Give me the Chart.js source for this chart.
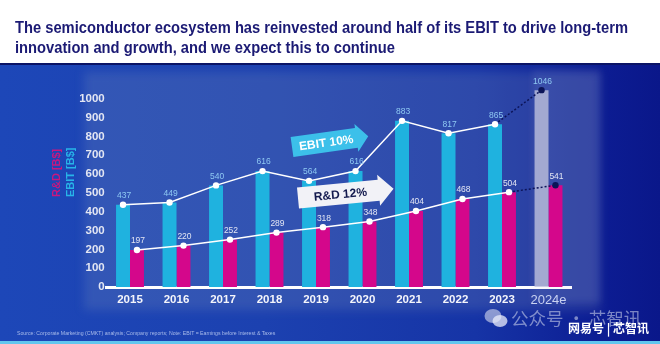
<!DOCTYPE html>
<html>
<head>
<meta charset="utf-8">
<script src="https://cdn.jsdelivr.net/npm/chart.js@4/dist/chart.umd.min.js"></script>
<style>
  html, body { margin: 0; padding: 0; width: 660px; height: 344px; overflow: hidden; background: #fff; font-family: "Liberation Sans", Arial, sans-serif; }
  #title { position: absolute; left: 15px; top: 18px; color: #1b1a74; font-weight: bold; font-size: 16px; line-height: 20px; white-space: nowrap; transform-origin: 0 0; }
  #panel { position: absolute; left: 0; top: 63px; width: 660px; height: 278px; border-top: 2px solid #0b1466;
           background: linear-gradient(90deg, #1d47b8 0%, #1c41b0 40%, #1634a6 72%, #0c1c92 92%, #0a178a 100%); }
  #plotbg { position: absolute; left: 84px; top: 72px; width: 516px; height: 238px; background: rgba(130, 150, 185, 0.22); filter: blur(5px); }
  #bottomline { position: absolute; left: 0; top: 341px; width: 660px; height: 3px; background: #61c6ee; }
  #source { position: absolute; left: 17px; top: 330px; font-size: 5.2px; color: #a9bbea; white-space: nowrap; }
  #wm1 { position: absolute; left: 484px; top: 307px; font-family: "Noto Sans CJK SC", sans-serif; font-size: 17.5px; line-height: 22px; color: rgba(215, 220, 240, 0.55); white-space: nowrap; }
  #wm1 svg { vertical-align: -3px; margin-right: 3px; }
  #wm2 { position: absolute; left: 568px; top: 320px; font-family: "Noto Sans CJK SC", sans-serif; font-weight: bold; font-size: 12px; line-height: 15px; color: #ffffff; white-space: nowrap; }
  canvas { position: absolute; left: 0; top: 0; }
</style>
</head>
<body>
<div id="title"><span id="l1">The semiconductor ecosystem has reinvested around half of its EBIT to drive long-term</span><br>innovation and growth, and we expect this to continue</div>
<div id="panel"></div>
<div id="plotbg"></div>
<div id="bottomline"></div>
<canvas id="bars" width="660" height="344"></canvas>
<canvas id="trends" width="660" height="344"></canvas>
<div id="source">Source: Corporate Marketing (CMKT) analysis; Company reports; Note: EBIT = Earnings before Interest &amp; Taxes</div>
<div id="wm1"><svg width="24" height="20" viewBox="0 0 24 20"><ellipse cx="9" cy="8" rx="8.5" ry="7" fill="rgba(215,220,240,0.6)"/><ellipse cx="16" cy="13" rx="7.5" ry="6" fill="rgba(235,238,250,0.75)"/></svg>公众号 · 芯智讯</div>
<div id="wm2">网易号 | 芯智讯</div>
<script>
// Fit the first title line to the header width
(function () {
  const title = document.getElementById('title');
  const w = document.getElementById('l1').getBoundingClientRect().width;
  title.style.transform = 'scaleX(' + (613 / w) + ')';
})();

// Values in billions of dollars
const years = ['2015', '2016', '2017', '2018', '2019', '2020', '2021', '2022', '2023', '2024e'];
const ebit  = [437, 449, 540, 616, 564, 616, 883, 817, 865, 1046];
const rnd   = [197, 220, 252, 289, 318, 348, 404, 468, 504, 541];
const yTicks = [0, 100, 200, 300, 400, 500, 600, 700, 800, 900, 1000];
const estimateIndex = years.length - 1;

const CYAN = '#1fb2df';
const MAGENTA = '#d4078b';
const ESTIMATE_GRAY = 'rgba(190, 193, 220, 0.8)';
const NAVY_DOT = '#0c1458';
const FONT = '"Liberation Sans", Arial, sans-serif';

// Shared plot geometry so the bar and trend layers line up
const AREA = { left: 106.75, right: 88.25, top: 80, bottom: 57 };
const Y_MAX = 1100;
const barOffset = 0.15; // half of one bar, in category units

const lineData = (vals, sign) => vals.map((v, i) => ({ x: i + sign * barOffset, y: v }));

// Soft highlight column behind the estimate year
const highlightPlugin = {
  id: 'highlight',
  beforeDatasetsDraw(chart) {
    const { ctx, scales } = chart;
    const xc = scales.x.getPixelForValue(estimateIndex);
    ctx.save();
    ctx.filter = 'blur(3px)';
    ctx.fillStyle = 'rgba(200, 210, 240, 0.10)';
    ctx.fillRect(xc - 16, 70, 68, 232);
    ctx.restore();
  }
};

// Two-colour vertical axis title
const axisTitlePlugin = {
  id: 'axisTitle',
  afterDraw(chart) {
    const { ctx } = chart;
    [['EBIT [B$]', 71, '#27b4e8', 'none'], ['R&D [B$]', 57, '#c8177f', 'blur(0.6px)']].forEach(([txt, x, color, filter]) => {
      ctx.save();
      ctx.font = 'bold 11px ' + FONT;
      ctx.textAlign = 'left';
      ctx.textBaseline = 'middle';
      ctx.translate(x, 197);
      ctx.rotate(-Math.PI / 2);
      ctx.filter = filter;
      ctx.fillStyle = color;
      ctx.fillText(txt, 0, 0);
      ctx.restore();
    });
  }
};

// Value labels above the trend points
const valueLabelPlugin = {
  id: 'valueLabels',
  afterDatasetsDraw(chart) {
    const { ctx } = chart;
    ctx.save();
    ctx.font = '8.5px ' + FONT;
    ctx.textAlign = 'center';
    ctx.textBaseline = 'middle';
    [[0, '#8ec8f2'], [1, '#e2e5f3']].forEach(([di, color]) => {
      const meta = chart.getDatasetMeta(di);
      const vals = chart.data.datasets[di].data;
      meta.data.forEach((pt, i) => {
        ctx.fillStyle = color;
        ctx.fillText(String(vals[i].y), pt.x + 1, pt.y - 9);
      });
    });
    ctx.restore();
  }
};

// Growth arrows
function drawArrow(ctx, x, y, angle, len, bodyH, headLen, headH, fill, text, textColor) {
  ctx.save();
  ctx.translate(x, y);
  ctx.rotate(angle * Math.PI / 180);
  ctx.beginPath();
  ctx.moveTo(0, -bodyH / 2);
  ctx.lineTo(len - headLen, -bodyH / 2);
  ctx.lineTo(len - headLen, -headH / 2);
  ctx.lineTo(len, 0);
  ctx.lineTo(len - headLen, headH / 2);
  ctx.lineTo(len - headLen, bodyH / 2);
  ctx.lineTo(0, bodyH / 2);
  ctx.closePath();
  ctx.fillStyle = fill;
  ctx.fill();
  ctx.fillStyle = textColor;
  ctx.font = 'bold 12px ' + FONT;
  ctx.textAlign = 'center';
  ctx.textBaseline = 'middle';
  ctx.fillText(text, (len - headLen) / 2 + 2, 1);
  ctx.restore();
}

const arrowPlugin = {
  id: 'arrows',
  afterDatasetsDraw(chart) {
    const { ctx } = chart;
    let g = ctx.createLinearGradient(293, 0, 368, 0);
    g.addColorStop(0, '#3cc0ea');
    g.addColorStop(1, '#1eaedd');
    drawArrow(ctx, 292, 147, -8, 77, 20, 12, 28, g, 'EBIT 10%', '#ffffff');
    g = ctx.createLinearGradient(298, 0, 393, 0);
    g.addColorStop(0, '#f2f2f7');
    g.addColorStop(1, '#c9cbdb');
    drawArrow(ctx, 298, 198, -5.5, 96, 21, 15, 31, g, 'R&D 12%', '#141a4e');
  }
};

// Bar layer with the axes
new Chart(document.getElementById('bars'), {
  type: 'bar',
  data: {
    labels: years,
    datasets: [
      {
        label: 'EBIT', data: ebit,
        backgroundColor: ebit.map((_, i) => i === estimateIndex ? ESTIMATE_GRAY : CYAN),
        categoryPercentage: 0.6, barPercentage: 1.0
      },
      {
        label: 'R&D', data: rnd,
        backgroundColor: MAGENTA,
        categoryPercentage: 0.6, barPercentage: 1.0
      }
    ]
  },
  options: {
    responsive: false,
    animation: false,
    layout: { padding: { top: AREA.top, right: AREA.right, bottom: 0, left: 0 } },
    plugins: { legend: { display: false }, tooltip: { enabled: false } },
    scales: {
      x: {
        grid: { display: false, drawTicks: false },
        border: { display: true, color: '#ffffff', width: 3 },
        ticks: {
          padding: 6,
          color: c => c.index === estimateIndex ? '#c9d2f2' : '#f4f5fb',
          font: c => c.index === estimateIndex
            ? { family: FONT, size: 13, weight: 'normal' }
            : { family: FONT, size: 11.5, weight: 'bold' }
        },
        afterFit(scale) { scale.height = AREA.bottom; }
      },
      y: {
        min: 0, max: Y_MAX,
        grid: { display: false, drawTicks: false },
        border: { display: false },
        afterBuildTicks(scale) { scale.ticks = yTicks.map(v => ({ value: v })); },
        ticks: {
          padding: 2,
          color: '#e3e6f3',
          font: { family: FONT, size: 11.5, weight: 'bold' },
          callback: v => String(v)
        },
        afterFit(scale) { scale.width = AREA.left; }
      }
    }
  },
  plugins: [highlightPlugin, axisTitlePlugin]
});

// Trend layer: lines through the bar tops, growth arrows and value labels
const lastSeg = c => c.p1DataIndex === estimateIndex;
const trendSet = (label, vals, sign) => ({
  label, data: lineData(vals, sign),
  borderColor: '#ffffff', borderWidth: 1.5, tension: 0,
  pointRadius: 3.2, pointBorderWidth: 0,
  pointBackgroundColor: vals.map((_, i) => i === estimateIndex ? NAVY_DOT : '#ffffff'),
  segment: {
    borderColor: c => lastSeg(c) ? NAVY_DOT : '#ffffff',
    borderDash: c => lastSeg(c) ? [2, 2] : undefined
  }
});

new Chart(document.getElementById('trends'), {
  type: 'line',
  data: { datasets: [trendSet('EBIT', ebit, -1), trendSet('R&D', rnd, 1)] },
  options: {
    responsive: false,
    animation: false,
    layout: { padding: AREA },
    plugins: { legend: { display: false }, tooltip: { enabled: false } },
    scales: {
      x: { type: 'linear', display: false, min: -0.5, max: years.length - 0.5 },
      y: { display: false, min: 0, max: Y_MAX }
    }
  },
  plugins: [arrowPlugin, valueLabelPlugin]
});
</script>
</body>
</html>
